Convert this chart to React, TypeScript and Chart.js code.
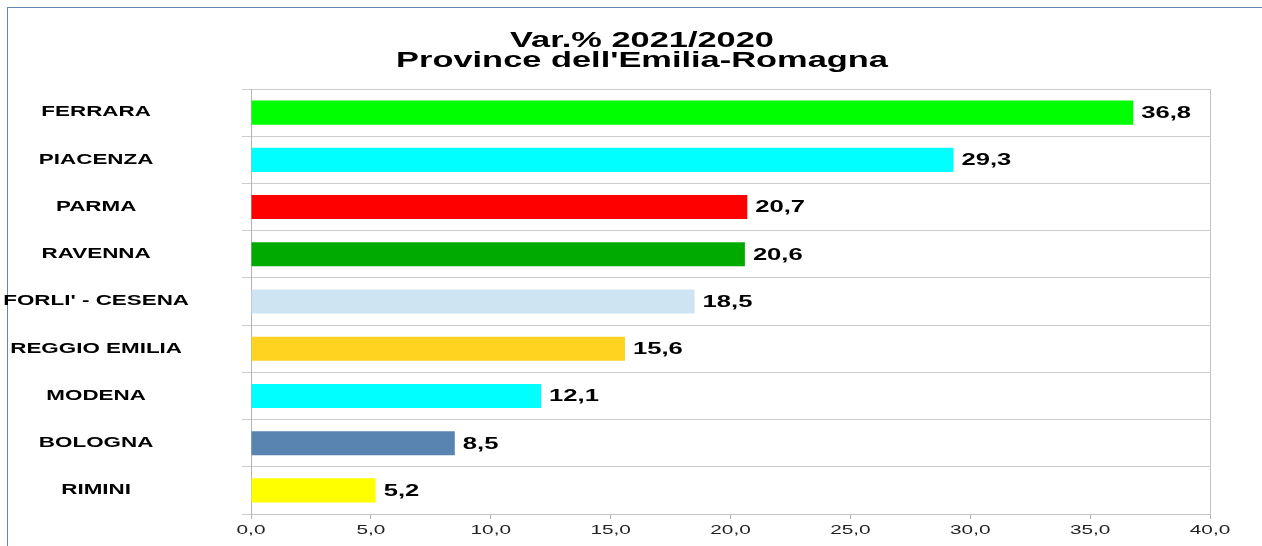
import React, { useEffect, useRef } from "react";
import { Chart, registerables } from "chart.js";

Chart.register(...registerables);

const categories = [
  "FERRARA",
  "PIACENZA",
  "PARMA",
  "RAVENNA",
  "FORLI' - CESENA",
  "REGGIO EMILIA",
  "MODENA",
  "BOLOGNA",
  "RIMINI",
];
const values = [36.8, 29.3, 20.7, 20.6, 18.5, 15.6, 12.1, 8.5, 5.2];
const barColors = [
  "#00ff00",
  "#00ffff",
  "#ff0000",
  "#00aa00",
  "#cfe4f3",
  "#ffd320",
  "#00ffff",
  "#5983b0",
  "#ffff00",
];
const titleLines = ["Var.% 2021/2020", "Province dell'Emilia-Romagna"];
const xMin = 0;
const xMax = 40;
const xStep = 5;

const FONT = '"Liberation Sans", Arial, sans-serif';
const SX = 1.6;

const fmt = (v: number) => v.toFixed(1).replace(".", ",");

function stretchContext(ctx: any) {
  if (ctx.__stretched) return;
  ctx.__stretched = true;
  const origFill = ctx.fillText.bind(ctx);
  const origMeasure = ctx.measureText.bind(ctx);
  ctx.fillText = (t: string, x: number, y: number) => {
    ctx.save();
    ctx.translate(x, y);
    ctx.scale(SX, 1);
    origFill(t, 0, 0);
    ctx.restore();
  };
  ctx.measureText = (t: string) => {
    const m = origMeasure(t);
    return {
      width: m.width * SX,
      actualBoundingBoxLeft: m.actualBoundingBoxLeft * SX,
      actualBoundingBoxRight: m.actualBoundingBoxRight * SX,
      actualBoundingBoxAscent: m.actualBoundingBoxAscent,
      actualBoundingBoxDescent: m.actualBoundingBoxDescent,
      fontBoundingBoxAscent: m.fontBoundingBoxAscent,
      fontBoundingBoxDescent: m.fontBoundingBoxDescent,
    };
  };
}

const decorPlugin = {
  id: "decor",
  beforeDraw(chart: any) {
    const ctx = chart.ctx;
    ctx.save();
    ctx.strokeStyle = "#6386b4";
    ctx.lineWidth = 1;
    ctx.strokeRect(7.5, 7.5, 1400, 800);
    ctx.fillStyle = "#000";
    ctx.font = `bold 21.5px ${FONT}`;
    ctx.textAlign = "center";
    ctx.textBaseline = "alphabetic";
    ctx.fillText(titleLines[0], 642, 47);
    ctx.fillText(titleLines[1], 642, 67);
    ctx.restore();
  },
  afterDatasetsDraw(chart: any) {
    const ctx = chart.ctx;
    const meta = chart.getDatasetMeta(0);
    ctx.save();
    ctx.fillStyle = "#000";
    ctx.font = `bold 16px ${FONT}`;
    ctx.textAlign = "left";
    ctx.textBaseline = "middle";
    meta.data.forEach((bar: any, i: number) => {
      ctx.fillText(fmt(values[i]), bar.x + 8, bar.y + 1);
    });
    ctx.restore();
  },
  afterDraw(chart: any) {
    const ctx = chart.ctx;
    const a = chart.chartArea;
    ctx.save();
    ctx.strokeStyle = "#c4c4c4";
    ctx.lineWidth = 1;
    ctx.beginPath();
    ctx.moveTo(Math.round(a.right) + 0.5, a.top);
    ctx.lineTo(Math.round(a.right) + 0.5, a.bottom);
    ctx.stroke();
    ctx.restore();
  },
};

export default function App() {
  const ref = useRef<HTMLCanvasElement | null>(null);

  useEffect(() => {
    const canvas = ref.current!;
    const ctx = canvas.getContext("2d")!;
    stretchContext(ctx);
    const chart = new Chart(ctx, {
      type: "bar",
      data: {
        labels: categories,
        datasets: [
          {
            data: values,
            backgroundColor: barColors,
            borderWidth: 0,
            barPercentage: 0.51,
            categoryPercentage: 1,
          },
        ],
      },
      options: {
        indexAxis: "y",
        responsive: false,
        animation: false,
        devicePixelRatio: 1,
        layout: { padding: { top: 89, right: 52, bottom: 0, left: 0 } },
        plugins: {
          legend: { display: false },
          title: { display: false },
          tooltip: { enabled: false },
        },
        scales: {
          x: {
            type: "linear",
            min: xMin,
            max: xMax,
            ticks: {
              stepSize: xStep,
              callback: (v: any) => fmt(Number(v)),
              font: { family: FONT, size: 13 },
              color: "#222",
              padding: 4,
              maxRotation: 0,
            },
            grid: {
              drawOnChartArea: false,
              drawTicks: true,
              tickLength: 5,
              color: "#b4b4b4",
            },
            border: { color: "#c4c4c4" },
            afterFit: (s: any) => {
              s.height = 32;
            },
          },
          y: {
            type: "category",
            grid: {
              offset: true,
              color: "#cdcdcd",
              tickLength: 9,
              lineWidth: 1,
            },
            border: { color: "#b4b4b4" },
            ticks: {
              font: { family: FONT, size: 14, weight: "bold" },
              color: "#000",
              padding: 53,
              crossAlign: "center",
            },
            afterFit: (s: any) => {
              s.width = 251;
              s.paddingTop = 0;
              s.paddingBottom = 0;
            },
          },
        },
      },
      plugins: [decorPlugin],
    } as any);
    return () => chart.destroy();
  }, []);

  return (
    <div
      style={{
        position: "fixed",
        left: 0,
        top: 0,
        width: 1262,
        height: 546,
        background: "#fff",
      }}
    >
      <canvas ref={ref} width={1262} height={546} style={{ display: "block" }} />
    </div>
  );
}
